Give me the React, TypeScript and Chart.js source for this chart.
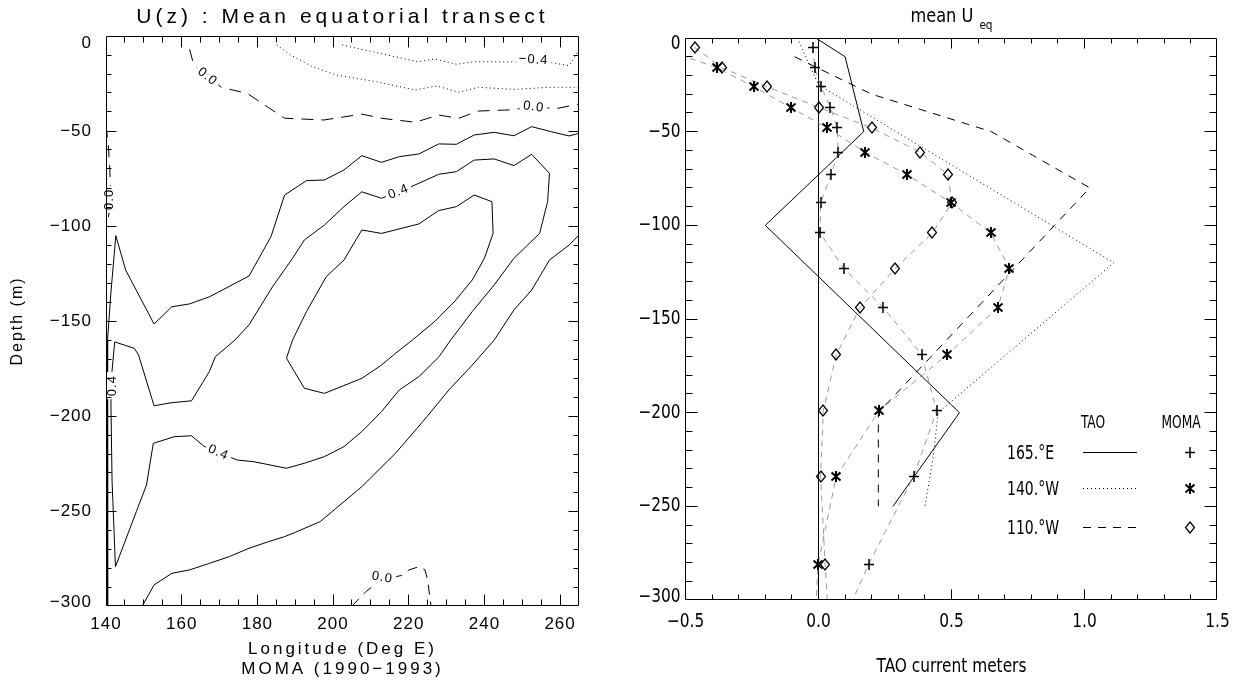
import { useEffect, useRef } from 'react';
import { Chart, registerables } from 'chart.js';

Chart.register(...registerables);

type Pt = [number, number];

/* ---------- Left panel: MOMA (1990-1993) mean zonal velocity along the equator ---------- */

const LON_TICKS = [140, 160, 180, 200, 220, 240, 260];
const LON_TICK_LABELS = ['140', '160', '180', '200', '220', '240', '260'];
const DEPTH_TICKS = [0, -50, -100, -150, -200, -250, -300];
const DEPTH_TICK_LABELS = ['0', '\u221250', '\u2212100', '\u2212150', '\u2212200', '\u2212250', '\u2212300'];

// contour polylines: [longitude (deg E), depth (m)]
const U_M04: Pt[] = [[202.4, -4.7], [212.3, -9.1], [222.2, -13.5], [226.9, -12.1], [232.6, -14.9], [237.3, -13.5], [247.8, -13.7], [257.7, -14.0], [262.4, -15.6], [265, -7.4]];
const U_M02: Pt[] = [[185.1, -4.7], [188.8, -10], [194.5, -16.1], [200.8, -20.5], [211.2, -24], [221.7, -28.4], [227.4, -26.3], [233.2, -29.6], [238.4, -27], [247.8, -28.1], [257.2, -27], [265, -27]];
const U_00_SURF: Pt[] = [[162.1, -7], [163.2, -15.3], [166.8, -21.4], [170.5, -27], [177.3, -30.2], [187.2, -43.3], [197.6, -44.2], [207.6, -41.1], [212.8, -43.3], [221.7, -45.4], [227.9, -41.6], [233.2, -43.3], [238.4, -39.5], [246.7, -38.9], [253, -37.5], [259.3, -38.1], [265, -35.8]];
const U_00_WEST: Pt[] = [[140, -47], [140.3, -52], [140.7, -60], [141, -70], [141.2, -80], [141, -90], [140.6, -96], [140, -100]];
const U_00_DEEP: Pt[] = [[205, -300], [208.6, -292.6], [212.8, -286], [218, -284], [220.1, -281], [222.7, -279.3], [224.3, -281], [225, -286.3], [225.9, -300]];
const U_02_UPPER: Pt[] = [[265, -51.2], [262.4, -52.6], [257.7, -50.4], [252.5, -47.7], [247.8, -52.5], [242.6, -50.7], [237.3, -52.1], [232.6, -57], [227.9, -56.8], [222.7, -62.1], [217.5, -63.5], [212.8, -66.5], [207.6, -63], [202.9, -70.5], [197.7, -75.8], [193, -76.1], [187.2, -83.7], [183.6, -105.6], [177.8, -126.3], [167.4, -137.2], [162.1, -141], [157.4, -142.5], [152.7, -151.6], [145.2, -123.2], [142.6, -105.1], [141.3, -135], [140.4, -160], [140.4, -200], [140.5, -250], [140.4, -300]];
const U_02_LOWER: Pt[] = [[265, -104.7], [262.4, -110], [257.2, -117.9], [252.5, -133.7], [247.8, -144.2], [242.6, -160], [236.8, -173.2], [230.6, -186.3], [224.8, -200.4], [222.2, -206.5], [216.5, -219.6], [207.6, -237.2], [202.4, -245.9], [196.6, -255.6], [189.8, -261.4], [187.2, -263.5], [183, -266.1], [177.8, -269.6], [172.6, -274], [167.4, -277.5], [162.1, -281], [157.4, -282.8], [152.7, -288.9], [149.6, -300]];
const U_04: Pt[] = [[142.5, -279.3], [148, -250.4], [150.7, -236.3], [152.5, -214.4], [158, -210.9], [162.6, -210.4], [165.8, -215.8], [169.7, -219.2], [174.7, -223.2], [178.9, -224], [187.7, -227.5], [192.4, -224.9], [197.7, -221.4], [202.9, -216.1], [207.6, -208.2], [212.8, -197.7], [217.5, -186.3], [222.7, -179.3], [228, -168.8], [231.1, -160], [236.8, -145], [242.6, -131], [247.8, -117], [254.6, -103.9], [256.7, -87.2], [257.2, -72.3], [252.5, -62.3], [247.8, -68.2], [242.6, -64.7], [237.3, -65.3], [232.6, -71.4], [227.9, -72.8], [222.7, -77.5], [219.6, -80.2], [217.3, -82], [212.8, -85.4], [207.6, -82], [202.9, -89.8], [197.7, -99.5], [192.4, -107.4], [189.3, -117], [184, -132], [177.8, -152], [174.1, -160], [168.9, -168.8], [167.3, -176.7], [162.6, -192], [157.4, -193], [152.7, -194.6], [148.6, -167.9], [147.5, -164.4], [142.3, -161], [141.6, -176], [141.3, -193], [141.6, -234], [142.5, -279.3]];
const U_06: Pt[] = [[242, -87.2], [242.3, -103.9], [240, -117], [236.8, -128.4], [232, -140], [227, -150], [221, -160], [216.5, -167], [212.8, -173.2], [207.6, -180.2], [197.7, -188.1], [192.4, -185.4], [187.7, -169.6], [189.3, -160], [193, -145], [198.2, -126.7], [202.9, -117.9], [207.6, -102.1], [212.8, -103.9], [222.7, -98.9], [227.9, -91.9], [232.6, -89.8], [237.3, -83.7], [242, -87.2]];

// contour level labels: text, longitude, depth, angle (deg)
const CONTOUR_LABEL_TEXT = ['\u22120.4', '0.0', '0.0', '0.4', '0.4', '0.0', '0.4', '0.0'];
const CONTOUR_LABEL_LON = [253, 166.8, 253, 217.3, 169.7, 213, 141.8, 140.9];
const CONTOUR_LABEL_DEPTH = [-12.5, -21.4, -37.3, -82, -219.2, -285, -184, -86];
const CONTOUR_LABEL_ANGLE = [3, 38, 8, -21, 24, 10, -90, -90];

/* ---------- Right panel: mean equatorial U profiles, TAO moorings vs MOMA ---------- */

const U_TICKS = [-0.5, 0, 0.5, 1, 1.5];
const U_TICK_LABELS = ['\u22120.5', '0.0', '0.5', '1.0', '1.5'];
const Z_TICKS = [0, -50, -100, -150, -200, -250, -300];
const Z_TICK_LABELS = ['0', '\u221250', '\u2212100', '\u2212150', '\u2212200', '\u2212250', '\u2212300'];
const SITE_NAMES = ['165.\u00b0E', '140.\u00b0W', '110.\u00b0W'];

// TAO current meter means (m/s) at mooring depths (m)
const TAO_165E_U = [-0.01, 0.10, 0.17, -0.20, 0.53, 0.28];
const TAO_165E_Z = [0, -10, -50, -100, -200, -250];
const TAO_140W_U = [-0.08, 0.0, 1.11, 0.45, 0.43, 0.40];
const TAO_140W_Z = [0, -25, -120, -200, -225, -250];
const TAO_110W_U = [-0.09, 0.2, 0.65, 1.02, 0.225, 0.225];
const TAO_110W_Z = [-10, -30, -50, -80, -200, -250];

// MOMA model means at model levels
const MOMA_Z = [-5, -16, -26, -37, -48, -61, -73, -88, -104, -123, -144, -169, -199, -234, -281, -335];
const MOMA_165E = [-0.02, -0.015, 0.01, 0.045, 0.07, 0.074, 0.047, 0.008, 0.006, 0.095, 0.244, 0.388, 0.444, 0.358, 0.188, 0.02];
const MOMA_140W = [-0.6, -0.38, -0.244, -0.105, 0.033, 0.176, 0.333, 0.499, 0.647, 0.718, 0.674, 0.484, 0.228, 0.067, -0.002, -0.02];
const MOMA_110W = [-0.466, -0.362, -0.194, 0.0, 0.2, 0.383, 0.487, 0.502, 0.428, 0.289, 0.156, 0.067, 0.018, 0.008, 0.025, 0.048];

const ZERO_U = [0, 0];
const ZERO_Z = [0, -300];

/* ---------- drawing helpers ---------- */

const LEFT_FAMILY = '"Liberation Sans", Arial, sans-serif';
const RIGHT_FAMILY = '"Liberation Sans Narrow", "DejaVu Sans Condensed", "Liberation Sans", sans-serif';
const GRAY = '#9a9a9a';
const DOTS = [1, 3];

interface TextOpts {
  font: string;
  align?: CanvasTextAlign;
  baseline?: CanvasTextBaseline;
  spacing?: number;
  scaleX?: number;
  angle?: number;
}

function drawText(ctx: CanvasRenderingContext2D, text: string, x: number, y: number, o: TextOpts) {
  ctx.save();
  ctx.translate(x, y);
  if (o.angle) ctx.rotate((o.angle * Math.PI) / 180);
  if (o.scaleX && o.scaleX !== 1) ctx.scale(o.scaleX, 1);
  ctx.font = o.font;
  (ctx as any).letterSpacing = `${o.spacing ?? 0}px`;
  ctx.textAlign = o.align ?? 'center';
  ctx.textBaseline = o.baseline ?? 'middle';
  ctx.fillStyle = '#000';
  ctx.fillText(text, 0, 0);
  ctx.restore();
}

function textWidth(ctx: CanvasRenderingContext2D, text: string, font: string, spacing = 0) {
  ctx.save();
  ctx.font = font;
  (ctx as any).letterSpacing = `${spacing}px`;
  const w = ctx.measureText(text).width;
  ctx.restore();
  return w;
}

interface FrameStyle {
  xMajor: number[];
  xLabels: string[];
  xMinor: number;
  yMajor: number[];
  yLabels: string[];
  yMinor: number;
  xTick: [number, number];
  yTick: [number, number];
  label: TextOpts;
  xLabelY: number;
  yLabelGap: number;
  yEdge: [number, number];
}

const near = (v: number, arr: number[]) => arr.some((m) => Math.abs(m - v) < 1e-6);

function drawFrame(chart: Chart, s: FrameStyle) {
  const { ctx, chartArea: a } = chart;
  const xs = chart.scales.x;
  const ys = chart.scales.y;
  const L = Math.floor(a.left) + 0.5;
  const R = Math.floor(a.right) - 0.5;
  const T = Math.floor(a.top) + 0.5;
  const B = Math.floor(a.bottom) - 0.5;
  ctx.save();
  ctx.strokeStyle = '#000';
  ctx.lineWidth = 1;
  ctx.setLineDash([]);
  ctx.beginPath();
  ctx.rect(L, T, R - L, B - T);
  const nx = Math.round((xs.max - xs.min) / s.xMinor);
  for (let i = 1; i < nx; i++) {
    const v = xs.min + i * s.xMinor;
    const len = near(v, s.xMajor) ? s.xTick[0] : s.xTick[1];
    const px = Math.floor(xs.getPixelForValue(v)) + 0.5;
    ctx.moveTo(px, B);
    ctx.lineTo(px, B - len);
    ctx.moveTo(px, T);
    ctx.lineTo(px, T + len);
  }
  const ny = Math.round((ys.max - ys.min) / s.yMinor);
  for (let i = 1; i < ny; i++) {
    const v = ys.min + i * s.yMinor;
    const len = near(v, s.yMajor) ? s.yTick[0] : s.yTick[1];
    const py = Math.floor(ys.getPixelForValue(v)) + 0.5;
    ctx.moveTo(L, py);
    ctx.lineTo(L + len, py);
    ctx.moveTo(R, py);
    ctx.lineTo(R - len, py);
  }
  ctx.stroke();
  ctx.restore();

  s.xMajor.forEach((v, i) => {
    drawText(ctx, s.xLabels[i], xs.getPixelForValue(v), s.xLabelY, s.label);
  });
  s.yMajor.forEach((v, i) => {
    let py = ys.getPixelForValue(v);
    if (Math.abs(v - ys.max) < 1e-6) py += s.yEdge[0];
    if (Math.abs(v - ys.min) < 1e-6) py -= s.yEdge[1];
    drawText(ctx, s.yLabels[i], a.left - s.yLabelGap, py, { ...s.label, align: 'right' });
  });
}

const whiteBackground = {
  id: 'whiteBackground',
  beforeDraw(chart: Chart) {
    const { ctx } = chart;
    ctx.save();
    ctx.fillStyle = '#fff';
    ctx.fillRect(0, 0, chart.width, chart.height);
    ctx.restore();
  },
  beforeDatasetsDraw(chart: Chart) {
    chart.ctx.imageSmoothingEnabled = false;
  },
};

function makeMarker(kind: 'plus' | 'star' | 'diamond'): HTMLCanvasElement {
  const c = document.createElement('canvas');
  c.width = 12;
  c.height = 13;
  const g = c.getContext('2d')!;
  g.strokeStyle = '#000';
  g.beginPath();
  if (kind === 'plus') {
    g.lineWidth = 1.5;
    g.moveTo(6, 1);
    g.lineTo(6, 12);
    g.moveTo(1, 6.5);
    g.lineTo(11, 6.5);
  } else if (kind === 'star') {
    g.lineWidth = 2;
    g.moveTo(6, 1);
    g.lineTo(6, 12);
    g.moveTo(1.5, 2.5);
    g.lineTo(10.5, 10.5);
    g.moveTo(10.5, 2.5);
    g.lineTo(1.5, 10.5);
  } else {
    g.lineWidth = 1.2;
    g.moveTo(6, 1);
    g.lineTo(10.5, 6.5);
    g.lineTo(6, 12);
    g.lineTo(1.5, 6.5);
    g.closePath();
  }
  g.stroke();
  return c;
}

const toXY = (pts: Pt[]) => pts.map(([x, y]) => ({ x, y }));
const zip = (us: number[], zs: number[]) => us.map((u, i) => ({ x: u, y: zs[i] }));

function lineSet(data: { x: number; y: number }[], dash: number[], color = '#000') {
  return {
    data,
    showLine: true,
    borderColor: color,
    borderWidth: 1,
    borderDash: dash,
    pointRadius: 0,
    fill: false,
    tension: 0,
    clip: 0,
  };
}

/* ---------- chart builders ---------- */

function buildLeft(canvas: HTMLCanvasElement) {
  const lf = (size: number) => `${size}px ${LEFT_FAMILY}`;
  const decor = {
    id: 'transectDecor',
    afterDatasetsDraw(chart: Chart) {
      const { ctx, chartArea: a } = chart;
      const xs = chart.scales.x;
      const ys = chart.scales.y;
      const labelFont = lf(13);
      CONTOUR_LABEL_TEXT.forEach((t, i) => {
        const px = xs.getPixelForValue(CONTOUR_LABEL_LON[i]);
        const py = ys.getPixelForValue(CONTOUR_LABEL_DEPTH[i]);
        const w = textWidth(ctx, t, labelFont, 1);
        ctx.save();
        ctx.translate(px, py);
        ctx.rotate((CONTOUR_LABEL_ANGLE[i] * Math.PI) / 180);
        ctx.fillStyle = '#fff';
        ctx.fillRect(-w / 2 - 3, -6, w + 6, 12);
        ctx.restore();
        drawText(ctx, t, px, py, { font: labelFont, spacing: 1, angle: CONTOUR_LABEL_ANGLE[i] });
      });
      drawFrame(chart, {
        xMajor: LON_TICKS,
        xLabels: LON_TICK_LABELS,
        xMinor: 5,
        yMajor: DEPTH_TICKS,
        yLabels: DEPTH_TICK_LABELS,
        yMinor: 10,
        xTick: [11, 6],
        yTick: [10, 5],
        label: { font: lf(17), spacing: 1 },
        xLabelY: 624,
        yLabelGap: 14,
        yEdge: [7, 4],
      });
      const cx = (a.left + a.right) / 2;
      drawText(ctx, 'U(z) : Mean equatorial transect', cx, 23, { font: lf(21), spacing: 4, baseline: 'alphabetic' });
      drawText(ctx, 'Longitude (Deg E)', cx, 649, { font: lf(17), spacing: 3 });
      drawText(ctx, 'MOMA (1990\u22121993)', cx, 669, { font: lf(17), spacing: 3 });
      drawText(ctx, 'Depth (m)', 18, (a.top + a.bottom) / 2, { font: lf(16), spacing: 2, angle: -90 });
    },
  };

  return new Chart(canvas, {
    type: 'scatter',
    data: {
      datasets: [
        lineSet(toXY(U_M04), DOTS),
        lineSet(toXY(U_M02), DOTS),
        lineSet(toXY(U_00_SURF), [12, 8]),
        lineSet(toXY(U_00_WEST), [12, 8]),
        lineSet(toXY(U_00_DEEP), [10, 7]),
        lineSet(toXY(U_02_UPPER), []),
        lineSet(toXY(U_02_LOWER), []),
        lineSet(toXY(U_04), []),
        lineSet(toXY(U_06), []),
      ] as any,
    },
    options: {
      animation: false,
      responsive: false,
      devicePixelRatio: 1,
      events: [],
      layout: { padding: { left: 106, top: 36, right: 41, bottom: 75 } },
      plugins: { legend: { display: false }, tooltip: { enabled: false }, title: { display: false } },
      scales: {
        x: { type: 'linear', min: 140, max: 265, display: false },
        y: { type: 'linear', min: -300, max: 0, display: false },
      },
    },
    plugins: [whiteBackground, decor],
  });
}

function buildRight(canvas: HTMLCanvasElement) {
  const plus = makeMarker('plus');
  const star = makeMarker('star');
  const diamond = makeMarker('diamond');
  const markers = [plus, star, diamond];
  const taoDash = [[], DOTS, [8, 7]];
  const rf = (size: number) => `${size}px ${RIGHT_FAMILY}`;
  const SX = 0.9;

  const decor = {
    id: 'profileDecor',
    afterDatasetsDraw(chart: Chart) {
      const { ctx, chartArea: a } = chart;
      ctx.imageSmoothingEnabled = false;
      drawFrame(chart, {
        xMajor: U_TICKS,
        xLabels: U_TICK_LABELS,
        xMinor: 0.1,
        yMajor: Z_TICKS,
        yLabels: Z_TICK_LABELS,
        yMinor: 10,
        xTick: [10, 5],
        yTick: [12, 7],
        label: { font: rf(19), scaleX: SX },
        xLabelY: 622,
        yLabelGap: 5,
        yEdge: [6, 3],
      });
      const cx = (a.left + a.right) / 2;
      // title with subscript
      const tFont = rf(20);
      const sFont = rf(13);
      const w1 = textWidth(ctx, 'mean U', tFont) * SX;
      const w2 = textWidth(ctx, 'eq', sFont) * SX;
      const x0 = cx - (w1 + 6 + w2) / 2;
      drawText(ctx, 'mean U', x0, 22, { font: tFont, scaleX: SX, align: 'left', baseline: 'alphabetic' });
      drawText(ctx, 'eq', x0 + w1 + 6, 29, { font: sFont, scaleX: SX, align: 'left', baseline: 'alphabetic' });
      drawText(ctx, 'TAO current meters', cx, 667, { font: rf(19), scaleX: SX });

      // legend table
      const legFont = rf(19);
      const colName = 387;
      const lineX0 = 463;
      const lineX1 = 517;
      const colMark = 570;
      drawText(ctx, 'TAO', (lineX0 + lineX1) / 2 - 17, 424, { font: rf(17), scaleX: 0.8 });
      drawText(ctx, 'MOMA', colMark - 9, 424, { font: rf(17), scaleX: 0.8 });
      const rowY = [452, 488, 527];
      SITE_NAMES.forEach((name, i) => {
        drawText(ctx, name, colName, rowY[i] + 2, { font: legFont, scaleX: 0.82, align: 'left' });
        ctx.save();
        ctx.strokeStyle = '#000';
        ctx.lineWidth = 1;
        ctx.setLineDash(taoDash[i]);
        ctx.beginPath();
        ctx.moveTo(lineX0, rowY[i] + 0.5);
        ctx.lineTo(lineX1, rowY[i] + 0.5);
        ctx.stroke();
        ctx.restore();
        const m = markers[i];
        ctx.drawImage(m, Math.round(colMark - m.width / 2), Math.round(rowY[i] - m.height / 2));
      });
    },
  };

  const moma = (us: number[], marker: HTMLCanvasElement) => ({
    ...lineSet(zip(us, MOMA_Z), [6, 5], GRAY),
    pointStyle: marker,
    pointRadius: 6,
  });

  return new Chart(canvas, {
    type: 'scatter',
    data: {
      datasets: [
        moma(MOMA_165E, plus),
        moma(MOMA_140W, star),
        moma(MOMA_110W, diamond),
        lineSet(zip(TAO_165E_U, TAO_165E_Z), []),
        lineSet(zip(TAO_140W_U, TAO_140W_Z), DOTS),
        lineSet(zip(TAO_110W_U, TAO_110W_Z), [8, 7]),
        lineSet(zip(ZERO_U, ZERO_Z), []),
      ] as any,
    },
    options: {
      animation: false,
      responsive: false,
      devicePixelRatio: 1,
      events: [],
      layout: { padding: { left: 65.5, top: 38, right: 20.5, bottom: 81 } },
      plugins: { legend: { display: false }, tooltip: { enabled: false }, title: { display: false } },
      scales: {
        x: { type: 'linear', min: -0.5, max: 1.5, display: false },
        y: { type: 'linear', min: -300, max: 0, display: false },
      },
    },
    plugins: [whiteBackground, decor],
  });
}

export default function App() {
  const leftRef = useRef<HTMLCanvasElement>(null);
  const rightRef = useRef<HTMLCanvasElement>(null);

  useEffect(() => {
    const left = buildLeft(leftRef.current!);
    const right = buildRight(rightRef.current!);
    return () => {
      left.destroy();
      right.destroy();
    };
  }, []);

  return (
    <div style={{ position: 'absolute', left: 0, top: 0, width: 1238, height: 681, background: '#fff' }}>
      <canvas ref={leftRef} width={620} height={681} style={{ position: 'absolute', left: 0, top: 0 }} />
      <canvas ref={rightRef} width={618} height={681} style={{ position: 'absolute', left: 620, top: 0 }} />
    </div>
  );
}
